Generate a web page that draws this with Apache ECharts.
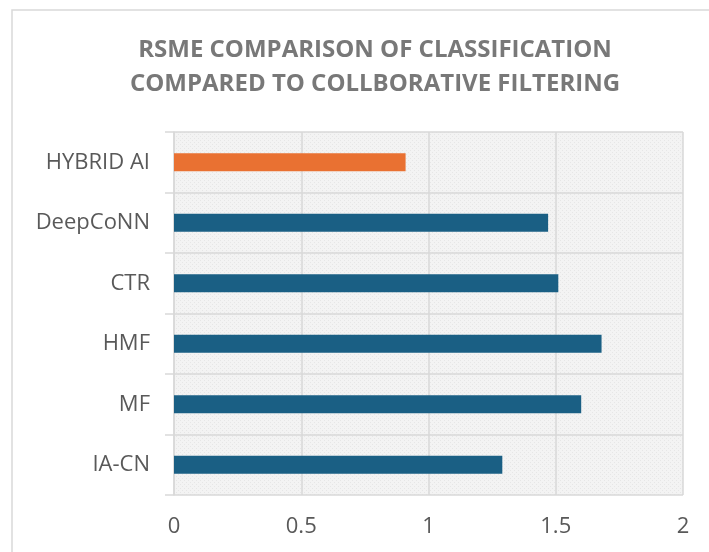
<!DOCTYPE html>
<html>
<head>
<meta charset="utf-8">
<script src="https://cdn.jsdelivr.net/npm/echarts@6/dist/echarts.min.js"></script>
<style>
  html, body { margin: 0; padding: 0; background: #fff; }
  #chart { width: 709px; height: 552px; }
</style>
</head>
<body>
<div id="chart"></div>
<script>
// categories bottom -> top, as the y axis draws them
var methods = ['IA-CN', 'MF', 'HMF', 'CTR', 'DeepCoNN', 'HYBRID AI'];
var rsme = [1.29, 1.6, 1.68, 1.51, 1.47, 0.91];
var highlight = 'HYBRID AI';

var chart = echarts.init(document.getElementById('chart'));

// light dotted texture for plot area
var pat = document.createElement('canvas');
pat.width = 4; pat.height = 4;
var pctx = pat.getContext('2d');
pctx.fillStyle = '#f3f3f3';
pctx.fillRect(0, 0, 4, 4);
pctx.fillStyle = '#e6e6e6';
pctx.fillRect(0, 0, 1, 1);
pctx.fillRect(2, 2, 1, 1);

var option = {
  animation: false,
  textStyle: { fontFamily: 'Open Sans' },
  title: {
    text: 'RSME COMPARISON OF CLASSIFICATION\nCOMPARED TO COLLBORATIVE FILTERING',
    left: 370,
    top: 28,
    textAlign: 'center',
    textStyle: {
      fontFamily: 'Open Sans',
      fontSize: 24,
      fontWeight: 'bold',
      color: '#787878',
      lineHeight: 34
    }
  },
  graphic: [{
    type: 'rect',
    shape: { x: 12, y: 10, width: 760, height: 600 },
    style: { fill: 'none', stroke: '#d9d9d9', lineWidth: 1.5 },
    silent: true
  }],
  grid: {
    left: 174, right: 26, top: 132, bottom: 57,
    show: true,
    backgroundColor: { image: pat, repeat: 'repeat' },
    borderWidth: 0
  },
  xAxis: {
    type: 'value',
    min: 0, max: 2, interval: 0.5,
    axisLine: { show: false },
    axisTick: { show: false },
    splitLine: { show: true, lineStyle: { color: '#d9d9d9', width: 1.5 } },
    axisLabel: { fontSize: 22, color: '#595959', margin: 21 }
  },
  yAxis: {
    type: 'category',
    data: methods,
    axisLine: { show: true, lineStyle: { color: '#d9d9d9', width: 1.5 } },
    axisTick: { show: true, length: 9, lineStyle: { color: '#d9d9d9', width: 1.5 } },
    splitLine: { show: true, lineStyle: { color: '#d9d9d9', width: 1.5 } },
    axisLabel: { fontSize: 22, color: '#595959', margin: 24 }
  },
  series: [{
    type: 'bar',
    barWidth: 18,
    data: rsme.map(function (v, i) {
      return {
        value: v,
        itemStyle: { color: methods[i] === highlight ? '#e97132' : '#1a5f84' }
      };
    })
  }]
};

chart.setOption(option);
</script>
</body>
</html>
